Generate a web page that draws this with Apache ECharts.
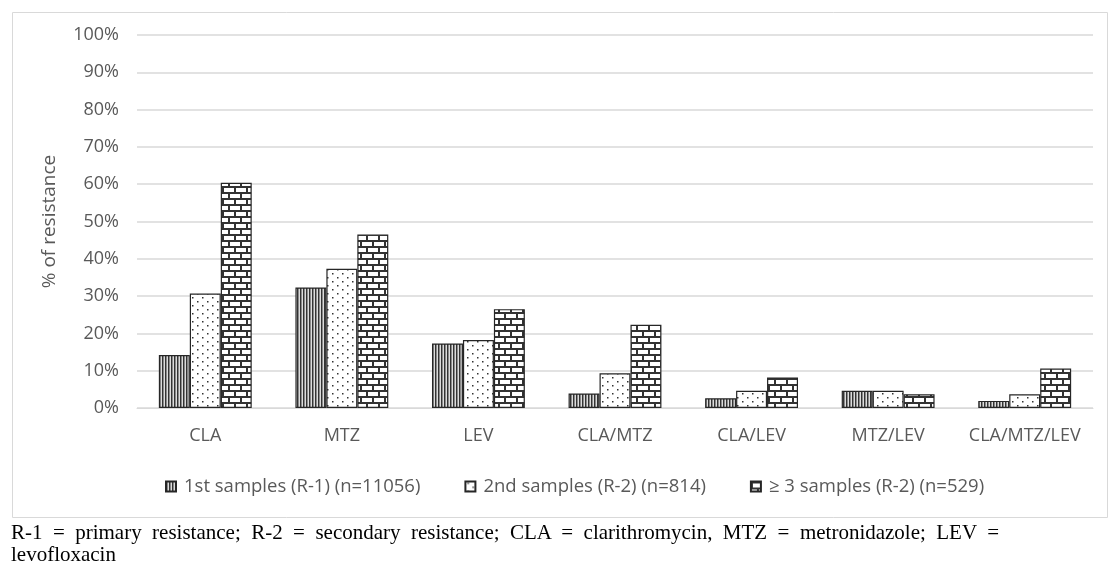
<!DOCTYPE html>
<html><head><meta charset="utf-8">
<script src="https://cdn.jsdelivr.net/npm/echarts@6/dist/echarts.min.js"></script>
<style>
html,body{margin:0;padding:0;background:#fff;}
#chart{width:1110px;height:562px;position:absolute;left:0;top:0;}
.cap{position:absolute;left:11px;width:988px;font-family:"Liberation Serif","Times New Roman",serif;font-size:21px;line-height:22px;color:#000;white-space:nowrap;}
#cap1{top:521px;text-align:justify;text-align-last:justify;}
#cap2{top:543px;}
</style></head>
<body>
<div id="chart"></div>
<div class="cap" id="cap1">R-1 = primary resistance; R-2 = secondary resistance; CLA = clarithromycin, MTZ = metronidazole; LEV =</div>
<div class="cap" id="cap2">levofloxacin</div>
<script>
const categories = ['CLA','MTZ','LEV','CLA/MTZ','CLA/LEV','MTZ/LEV','CLA/MTZ/LEV'];
const seriesNames = ['1st samples (R-1) (n=11056)','2nd samples (R-2) (n=814)','\u2265 3 samples (R-2) (n=529)'];
const r1 = [14.2, 32.3, 17.3, 3.9, 2.6, 4.6, 1.9];
const r2 = [30.7, 37.3, 18.2, 9.3, 4.6, 4.6, 3.7];
const r3 = [60.4, 46.5, 26.5, 22.3, 8.2, 3.7, 10.6];
const yTicks = [0,10,20,30,40,50,60,70,80,90,100];

function mk(w,h,draw){const c=document.createElement('canvas');c.width=w;c.height=h;const x=c.getContext('2d');x.fillStyle='#fff';x.fillRect(0,0,w,h);draw(x);return c;}
const stripes = mk(3,3,x=>{x.fillStyle='#333';x.fillRect(0,0,1,3);x.fillStyle='#8a8a8a';x.fillRect(1,0,1,3);x.fillStyle='#dcdcdc';x.fillRect(2,0,1,3);});
const dots = mk(10,8,x=>{x.fillStyle='#333';x.fillRect(2,1,1.5,1.5);x.fillRect(7,5,1.5,1.5);});
const bricks = mk(12,12,x=>{x.fillStyle='#333';x.fillRect(0,0,12,2);x.fillRect(0,6,12,2);x.fillRect(0,0,2,6);x.fillRect(6,6,2,6);});
const pats=[stripes,dots,bricks];
const dataSets=[r1,r2,r3];

const font='"Open Sans", sans-serif';
const chart = echarts.init(document.getElementById('chart'),null,{renderer:'canvas'});
chart.setOption({
  animation:false,
  graphic:[{type:'rect',left:10,top:10,shape:{width:1095,height:505},style:{fill:'none',stroke:'#d9d9d9',lineWidth:1},silent:true}],
  grid:{left:137,right:17,top:35,bottom:154},
  legend:{top:472,left:160,itemWidth:10,itemHeight:10,itemGap:44,icon:'rect',
    textStyle:{fontFamily:font,fontSize:18.5,color:'#595959',padding:[0,0,0,3]},
    data:seriesNames},
  xAxis:{type:'category',data:categories,
    axisLine:{lineStyle:{color:'#d9d9d9'}},axisTick:{show:false},
    axisLabel:{fontFamily:font,fontSize:18,color:'#595959',margin:19,interval:0}},
  yAxis:{type:'value',min:0,max:100,interval:10,
    name:'% of resistance',nameLocation:'middle',nameGap:78,nameRotate:90,
    nameTextStyle:{fontFamily:font,fontSize:19,color:'#595959'},
    axisLine:{show:false},axisTick:{show:false},
    axisLabel:{fontFamily:font,fontSize:18,color:'#595959',margin:18,formatter:v=>yTicks.includes(v)?v+'%':''},
    splitLine:{lineStyle:{color:'#d9d9d9',width:1.5}}},
  series:dataSets.map((d,i)=>({
    name:seriesNames[i],type:'bar',data:d,barGap:'0%',barCategoryGap:'32%',
    itemStyle:{color:{image:pats[i],repeat:'repeat'},borderColor:'#262626',borderWidth:1.2}
  }))
});
</script>
</body></html>
